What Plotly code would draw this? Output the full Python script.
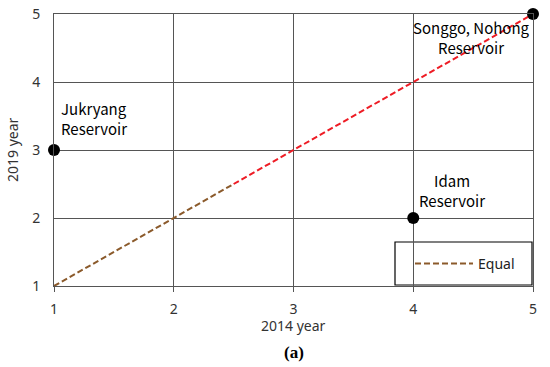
import plotly.graph_objects as go

# Data
names = ["Jukryang<br>Reservoir", "Idam<br>Reservoir", "Songgo, Nohong<br>Reservoir"]
x2014 = [1, 4, 5]
y2019 = [3, 2, 5]
equal_lo_x = [1, 2.5]
equal_lo_y = [1, 2.5]
equal_hi_x = [2.5, 5]
equal_hi_y = [2.5, 5]
ticks = [1, 2, 3, 4, 5]

PL, PR, PT, PB = 54, 533, 14, 286
W, H = 550, 367
L, T = PL, PT
R, B = W - PR, H - PB
PW, PH = PR - PL, PB - PT

fig = go.Figure()
fig.add_trace(go.Scatter(x=equal_hi_x, y=equal_hi_y, mode="lines",
                         line=dict(color="#ee1c25", width=2, dash="6px,3px"),
                         showlegend=False, hoverinfo="skip"))
fig.add_trace(go.Scatter(x=equal_lo_x, y=equal_lo_y, mode="lines", name="Equal",
                         line=dict(color="#8b5a2b", width=2, dash="6px,3px")))
fig.add_trace(go.Scatter(x=x2014, y=y2019, mode="markers",
                         marker=dict(color="black", size=12),
                         showlegend=False, cliponaxis=False))

font_lbl = dict(family="Noto Sans CJK KR, DejaVu Sans", size=15, color="black")
fig.add_annotation(x=x2014[0], y=y2019[0], text=names[0], showarrow=False,
                   xanchor="left", yanchor="bottom", align="left",
                   xshift=5, yshift=9, font=font_lbl)
fig.add_annotation(x=x2014[1], y=y2019[1], text=names[1], showarrow=False,
                   xanchor="center", yanchor="bottom", align="center",
                   xshift=39, yshift=5, font=font_lbl)
fig.add_annotation(x=x2014[2], y=y2019[2], text=names[2], showarrow=False,
                   xanchor="center", yanchor="top", align="center",
                   xshift=-62, yshift=-1, font=font_lbl)

fig.add_annotation(xref="paper", yref="paper", x=0.5, y=-(352 - PB) / PH,
                   text="<b>(a)</b>", showarrow=False, yanchor="middle",
                   font=dict(family="Liberation Serif", size=17, color="black"))

fig.add_annotation(xref="paper", yref="paper", x=-(PL - 12) / PW, y=0.5,
                   text="2019 year", showarrow=False, textangle=-90,
                   xanchor="center", yanchor="middle",
                   font=dict(family="Noto Sans, DejaVu Sans", size=14, color="#333333"))
fig.add_annotation(xref="paper", yref="paper", x=0.5, y=-(325 - PB) / PH,
                   text="2014 year", showarrow=False,
                   xanchor="center", yanchor="middle",
                   font=dict(family="Noto Sans, DejaVu Sans", size=14, color="#333333"))

# legend box
fig.add_shape(type="rect", xref="paper", yref="paper",
              x0=(395 - PL) / PW, x1=(532 - PL) / PW,
              y0=(PB - 285) / PH, y1=(PB - 242) / PH,
              line=dict(color="black", width=1.2), fillcolor="white", layer="below")

axis_common = dict(range=[1, 5], tickvals=ticks, showgrid=True, gridcolor="#555555",
                   gridwidth=1, zeroline=False, showline=True, linecolor="#555555",
                   linewidth=1, mirror=True, automargin=False, ticklabeloverflow="allow",
                   tickfont=dict(family="Noto Sans, DejaVu Sans", size=14, color="#333333"))

fig.update_layout(
    width=W, height=H,
    margin=dict(l=L, r=R, t=T, b=B),
    paper_bgcolor="white", plot_bgcolor="white",
    xaxis=dict(axis_common, ticks="outside", ticklen=5, tickcolor="#555555",
               ticklabelstandoff=5),
    yaxis=dict(axis_common, ticks="", ticklabelstandoff=10),
    legend=dict(x=(410 - PL) / PW, y=(PB - 264) / PH,
                xanchor="left", yanchor="middle", bgcolor="rgba(0,0,0,0)",
                borderwidth=0,
                font=dict(family="Noto Sans, DejaVu Sans", size=14, color="#222222"),
                itemwidth=58),
    showlegend=True,
)

fig.write_html("out.html", config={"displayModeBar": False},
               post_script="document.body.style.margin='0px';document.body.style.overflow='hidden';")
